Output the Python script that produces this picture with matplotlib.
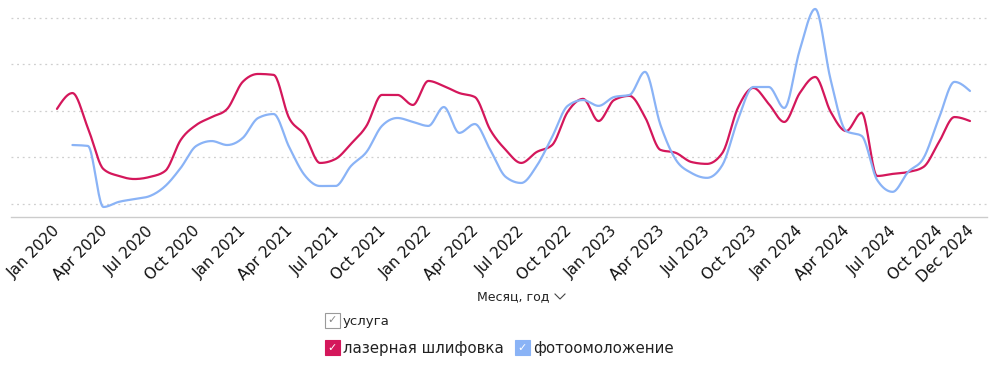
import numpy as np
import matplotlib
matplotlib.use("Agg")
import matplotlib.pyplot as plt
from matplotlib.patches import Rectangle
from matplotlib.lines import Line2D
from matplotlib.transforms import ScaledTranslation

# ---------------- data ----------------
months = [f"{m} {y}" for y in range(2020, 2025)
          for m in ["Jan", "Feb", "Mar", "Apr", "May", "Jun",
                    "Jul", "Aug", "Sep", "Oct", "Nov", "Dec"]]
tick_labels = ["Jan 2020", "Apr 2020", "Jul 2020", "Oct 2020",
               "Jan 2021", "Apr 2021", "Jul 2021", "Oct 2021",
               "Jan 2022", "Apr 2022", "Jul 2022", "Oct 2022",
               "Jan 2023", "Apr 2023", "Jul 2023", "Oct 2023",
               "Jan 2024", "Apr 2024", "Jul 2024", "Oct 2024", "Dec 2024"]

laser = [40.8, 47.6, 32.6, 15.0, 12.0, 10.7, 11.6, 14.2, 27.5, 33.9, 37.3, 40.8,
         52.4, 55.8, 55.4, 36.9, 29.6, 17.6, 19.3, 25.8, 33.5, 46.8, 46.8, 42.5,
         52.8, 50.6, 47.6, 45.9, 31.8, 23.2, 17.6, 22.3, 25.3, 39.5, 45.1, 35.6,
         44.6, 46.4, 37.3, 23.2, 21.9, 18.0, 17.2, 21.9, 41.2, 49.8, 42.9, 35.2,
         47.6, 54.5, 39.5, 31.3, 39.1, 12.0, 12.9, 13.7, 15.9, 26.6, 37.3, 35.6]

photo = [None, 25.3, 24.9, -1.3, 0.9, 2.1, 3.4, 7.7, 15.5, 24.9, 27.0, 25.3,
         28.3, 36.9, 38.6, 24.5, 12.4, 7.7, 7.7, 16.3, 22.3, 33.5, 36.9, 35.2,
         33.5, 41.6, 30.5, 34.3, 23.2, 11.6, 9.0, 16.3, 28.8, 42.1, 44.6, 42.1,
         45.9, 46.8, 56.7, 33.9, 18.9, 13.3, 11.2, 16.7, 36.1, 50.2, 50.2, 41.2,
         66.1, 83.7, 53.2, 31.3, 29.2, 10.3, 5.2, 13.7, 19.7, 36.9, 52.4, 48.5]

series_names = ["лазерная шлифовка", "фотоомоложение"]
colors = ["#D4175B", "#8AB3F6"]
legend_title = "услуга"
x_title = "Месяц, год"


# ------------- monotone cubic (d3 curveMonotoneX style) -------------
def monotone(x, y, n=20):
    x = np.asarray(x, float)
    y = np.asarray(y, float)
    h = np.diff(x)
    s = np.diff(y) / h
    m = np.zeros(len(x))
    for i in range(1, len(x) - 1):
        s0, s1 = s[i - 1], s[i]
        p = (s0 * h[i] + s1 * h[i - 1]) / (h[i - 1] + h[i])
        t = (np.sign(s0) + np.sign(s1)) * min(abs(s0), abs(s1), 0.5 * abs(p))
        m[i] = t
    m[0] = (3 * s[0] - m[1]) / 2 if len(x) > 2 else s[0]
    m[-1] = (3 * s[-1] - m[-2]) / 2 if len(x) > 2 else s[-1]
    xs, ys = [], []
    for i in range(len(x) - 1):
        t = np.linspace(0, 1, n, endpoint=False)
        hh = h[i]
        h00 = 2 * t**3 - 3 * t**2 + 1
        h10 = t**3 - 2 * t**2 + t
        h01 = -2 * t**3 + 3 * t**2
        h11 = t**3 - t**2
        xs.append(x[i] + t * hh)
        ys.append(h00 * y[i] + h10 * hh * m[i] + h01 * y[i + 1] + h11 * hh * m[i + 1])
    xs.append([x[-1]])
    ys.append([y[-1]])
    return np.concatenate(xs), np.concatenate(ys)


fig = plt.figure(figsize=(9.9, 3.65), dpi=100)
ax = fig.add_axes([11 / 990, 1 - 217 / 365, (987 - 11) / 990, (217 - 5) / 365])

idx = np.arange(len(months))
for vals, col in zip([laser, photo], colors):
    xv = [i for i, v in zip(idx, vals) if v is not None]
    yv = [v for v in vals if v is not None]
    sx, sy = monotone(xv, yv)
    ax.plot(sx, sy, color=col, lw=1.6, solid_capstyle="round", zorder=3)

ax.set_xlim(-2.97, 60.1)
ax.set_ylim(-5.6, 85.4)
ax.set_yticks([0, 20, 40, 60, 80])
ax.yaxis.grid(True, color="#cfcfcf", linestyle=(0, (1.5, 3)), lw=0.9)
ax.tick_params(axis="y", left=False, labelleft=False)
for sp in ["left", "right", "top"]:
    ax.spines[sp].set_visible(False)
ax.spines["bottom"].set_color("#cccccc")
ax.spines["bottom"].set_linewidth(1.0)

tick_pos = [months.index(t) for t in tick_labels]
ax.set_xticks(tick_pos)
ax.set_xticklabels(tick_labels, rotation=45, ha="right", va="top",
                   rotation_mode="anchor", fontsize=11, color="#111111",
                   family="DejaVu Sans")
ax.tick_params(axis="x", length=0, pad=4.5)
offset = ScaledTranslation(-4 / 100, 0, fig.dpi_scale_trans)
for lab in ax.get_xticklabels():
    lab.set_transform(lab.get_transform() + offset)

# x-axis title with chevron
fig.text(477 / 990, 1 - 297 / 365, x_title, fontsize=9, color="#222222",
         ha="left", va="center", family="DejaVu Sans")
cx, cy = 560 / 990, 1 - 297 / 365
fig.add_artist(Line2D([cx - 5 / 990, cx, cx + 5 / 990],
                      [cy + 3 / 365, cy - 2 / 365, cy + 3 / 365],
                      color="#444444", lw=0.8))

# legend
def checkbox(x0, y0, face, edge, tick_col):
    fig.add_artist(Rectangle((x0 / 990, 1 - (y0 + 15) / 365), 15 / 990, 15 / 365,
                             facecolor=face, edgecolor=edge, lw=0.8,
                             transform=fig.transFigure))
    fig.text((x0 + 7.5) / 990, 1 - (y0 + 7.5) / 365, "✓", color=tick_col,
             fontsize=8, ha="center", va="center", family="DejaVu Sans")

checkbox(325, 313, "white", "#9a9a9a", "#888888")
fig.text(343 / 990, 1 - 321 / 365, legend_title, fontsize=9.5, color="#222222",
         ha="left", va="center", family="DejaVu Sans")
checkbox(325, 340, colors[0], colors[0], "white")
fig.text(343 / 990, 1 - 348 / 365, series_names[0], fontsize=10.8, color="#222222",
         ha="left", va="center", family="DejaVu Sans")
checkbox(515, 340, colors[1], colors[1], "white")
fig.text(533 / 990, 1 - 348 / 365, series_names[1], fontsize=10.8, color="#222222",
         ha="left", va="center", family="DejaVu Sans")

fig.savefig("out.png", dpi=100)
